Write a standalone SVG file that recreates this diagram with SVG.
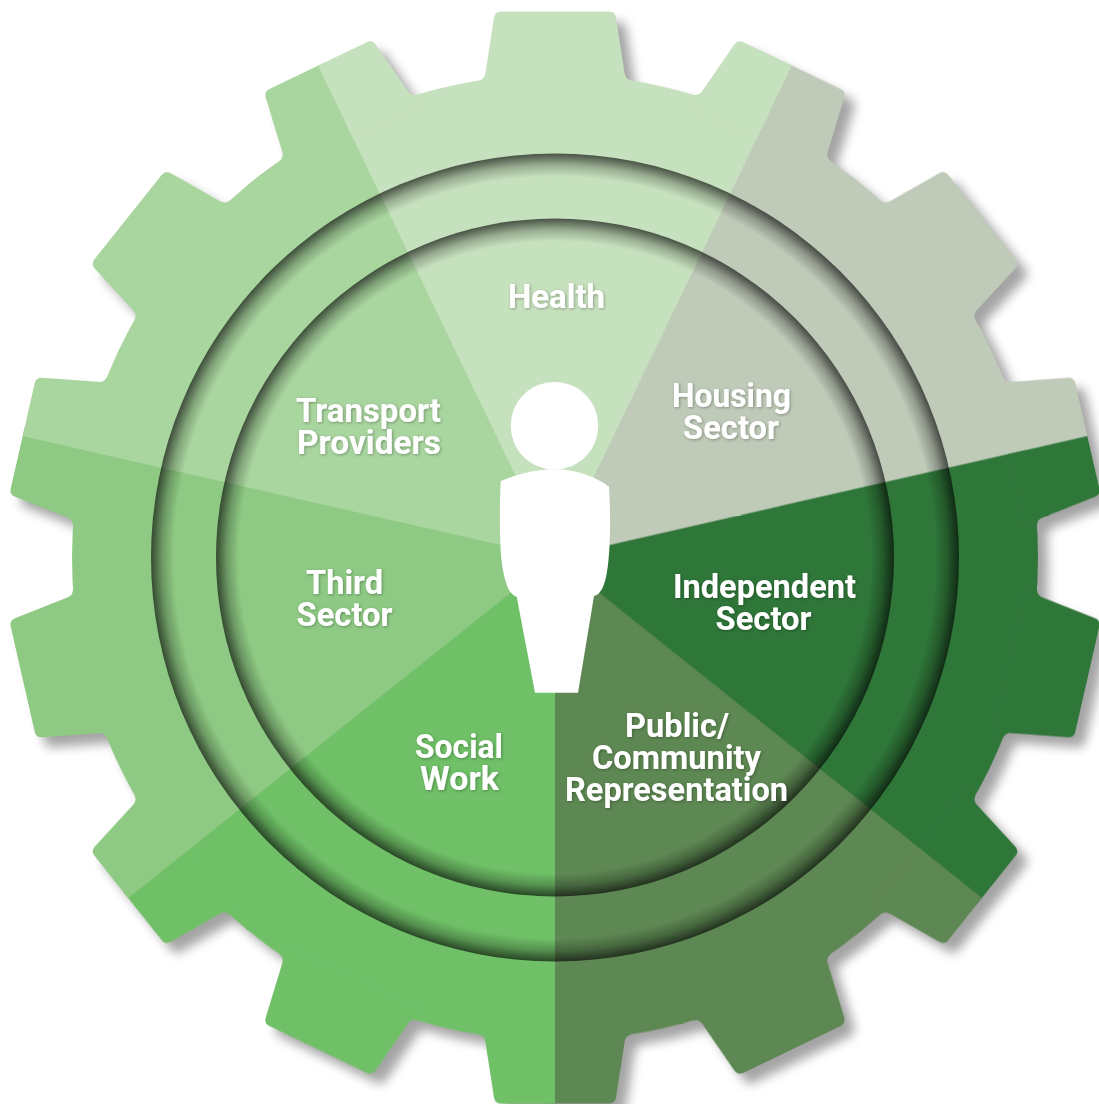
<svg xmlns="http://www.w3.org/2000/svg" width="1099" height="1104" viewBox="0 0 1099 1104">
<style>
.lbl{font-family:"Roboto","Liberation Sans",sans-serif;font-weight:700;font-size:33px;fill:#fff;text-anchor:middle;filter:url(#ts)}
</style>
<defs>
<filter id="blur" x="-10%" y="-10%" width="120%" height="120%"><feGaussianBlur stdDeviation="5.5"/></filter>
<filter id="ts" x="-10%" y="-30%" width="120%" height="160%"><feDropShadow dx="1" dy="1" stdDeviation="1.5" flood-color="#000" flood-opacity=".3"/></filter>
<radialGradient id="r1" gradientUnits="userSpaceOnUse" cx="0" cy="0" r="404">
<stop offset=".943" stop-color="#000" stop-opacity="0"/><stop offset=".972" stop-color="#000" stop-opacity=".24"/><stop offset="1" stop-color="#000" stop-opacity=".63"/></radialGradient>
<radialGradient id="r2" gradientUnits="userSpaceOnUse" cx="0" cy="0" r="339">
<stop offset=".933" stop-color="#000" stop-opacity="0"/><stop offset=".967" stop-color="#000" stop-opacity=".24"/><stop offset="1" stop-color="#000" stop-opacity=".63"/></radialGradient>
<path id="t" d="M-76-477Q-70-478.5-69.5-485L-61-540Q-60-546-54-546L54-546Q60-546 61-540L69.5-485Q70-478.5 76-477L76-465-76-465Z"/>
<g id="gear">
<circle r="483"/>
<use href="#t"/>
<use href="#t" transform="rotate(25.714)"/>
<use href="#t" transform="rotate(51.429)"/>
<use href="#t" transform="rotate(77.143)"/>
<use href="#t" transform="rotate(102.857)"/>
<use href="#t" transform="rotate(128.571)"/>
<use href="#t" transform="rotate(154.286)"/>
<use href="#t" transform="rotate(180)"/>
<use href="#t" transform="rotate(205.714)"/>
<use href="#t" transform="rotate(231.429)"/>
<use href="#t" transform="rotate(257.143)"/>
<use href="#t" transform="rotate(282.857)"/>
<use href="#t" transform="rotate(308.571)"/>
<use href="#t" transform="rotate(334.286)"/>
</g>
<clipPath id="s0"><path d="M0 0L-304.6-632.5A702 702 0 0 1 304.6-632.5Z"/></clipPath>
<clipPath id="s1"><path transform="rotate(51.429)" d="M0 0L-315-627A702 702 0 0 1 315-627Z"/></clipPath>
<clipPath id="s2"><path transform="rotate(102.857)" d="M0 0L-304.6-632.5A702 702 0 0 1 315-627Z"/></clipPath>
<clipPath id="s3"><path transform="rotate(154.286)" d="M0 0L-304.6-632.5A702 702 0 0 1 315-627Z"/></clipPath>
<clipPath id="s4"><path transform="rotate(205.714)" d="M0 0L-304.6-632.5A702 702 0 0 1 315-627Z"/></clipPath>
<clipPath id="s5"><path transform="rotate(257.143)" d="M0 0L-304.6-632.5A702 702 0 0 1 315-627Z"/></clipPath>
<clipPath id="s6"><path transform="rotate(308.571)" d="M0 0L-304.6-632.5A702 702 0 0 1 315-627Z"/></clipPath>
</defs>
<rect width="1099" height="1104" fill="#fff"/>
<g id="gear-shadow" transform="translate(565,567.5)" filter="url(#blur)" fill="#000" opacity=".36"><use href="#gear"/></g>
<g id="sectors" transform="translate(555,557.5)">
<g id="sector-housing" clip-path="url(#s1)" fill="#bfcab8"><use href="#gear"/></g>
<g id="sector-independent" clip-path="url(#s2)" fill="#2f7639"><use href="#gear"/></g>
<g id="sector-public" clip-path="url(#s3)" fill="#5e8853"><use href="#gear"/></g>
<g id="sector-social" clip-path="url(#s4)" fill="#70c068"><use href="#gear"/></g>
<g id="sector-third" clip-path="url(#s5)" fill="#8fca84"><use href="#gear"/></g>
<g id="sector-transport" clip-path="url(#s6)" fill="#a9d59f"><use href="#gear"/></g>
<g id="sector-health" clip-path="url(#s0)" fill="#c6e1bd"><use href="#gear"/></g>
<circle id="ring-outer" r="404" fill="url(#r1)"/>
<circle id="ring-inner" r="339" fill="url(#r2)"/>
</g>
<g id="person" fill="#fff">
<circle cx="554.5" cy="425.7" r="43.8"/>
<path d="M500.7 481C520 473 538 469.3 555 469.3C575 469.3 595 476 609 486.7C610.5 510 610.5 540 608.5 560C606.5 580 603 594 594 596L578 692.7L535 692.7L516.7 596.7C507 594 503 575 501 555C499.5 535 499.5 505 500.7 481Z"/>
</g>
<g id="labels">
<g id="label-health"><text class="lbl" x="556.5" y="308" textLength="97" lengthAdjust="spacingAndGlyphs">Health</text></g>
<g id="label-housing"><text class="lbl" x="731.5" y="407" textLength="119" lengthAdjust="spacingAndGlyphs">Housing</text><text class="lbl" x="731" y="439" textLength="96" lengthAdjust="spacingAndGlyphs">Sector</text></g>
<g id="label-independent"><text class="lbl" x="764.5" y="598" textLength="183" lengthAdjust="spacingAndGlyphs">Independent</text><text class="lbl" x="763.5" y="630" textLength="96" lengthAdjust="spacingAndGlyphs">Sector</text></g>
<g id="label-public"><text class="lbl" x="677" y="736.5" textLength="104" lengthAdjust="spacingAndGlyphs">Public/</text><text class="lbl" x="676.5" y="769" textLength="169" lengthAdjust="spacingAndGlyphs">Community</text><text class="lbl" x="676.5" y="801" textLength="223" lengthAdjust="spacingAndGlyphs">Representation</text></g>
<g id="label-social"><text class="lbl" x="459" y="758" textLength="88" lengthAdjust="spacingAndGlyphs">Social</text><text class="lbl" x="459.5" y="790" textLength="79" lengthAdjust="spacingAndGlyphs">Work</text></g>
<g id="label-third"><text class="lbl" x="344.5" y="594" textLength="77" lengthAdjust="spacingAndGlyphs">Third</text><text class="lbl" x="344.5" y="626" textLength="96" lengthAdjust="spacingAndGlyphs">Sector</text></g>
<g id="label-transport"><text class="lbl" x="368.5" y="422" textLength="145" lengthAdjust="spacingAndGlyphs">Transport</text><text class="lbl" x="369" y="454" textLength="144" lengthAdjust="spacingAndGlyphs">Providers</text></g>
</g>
</svg>
